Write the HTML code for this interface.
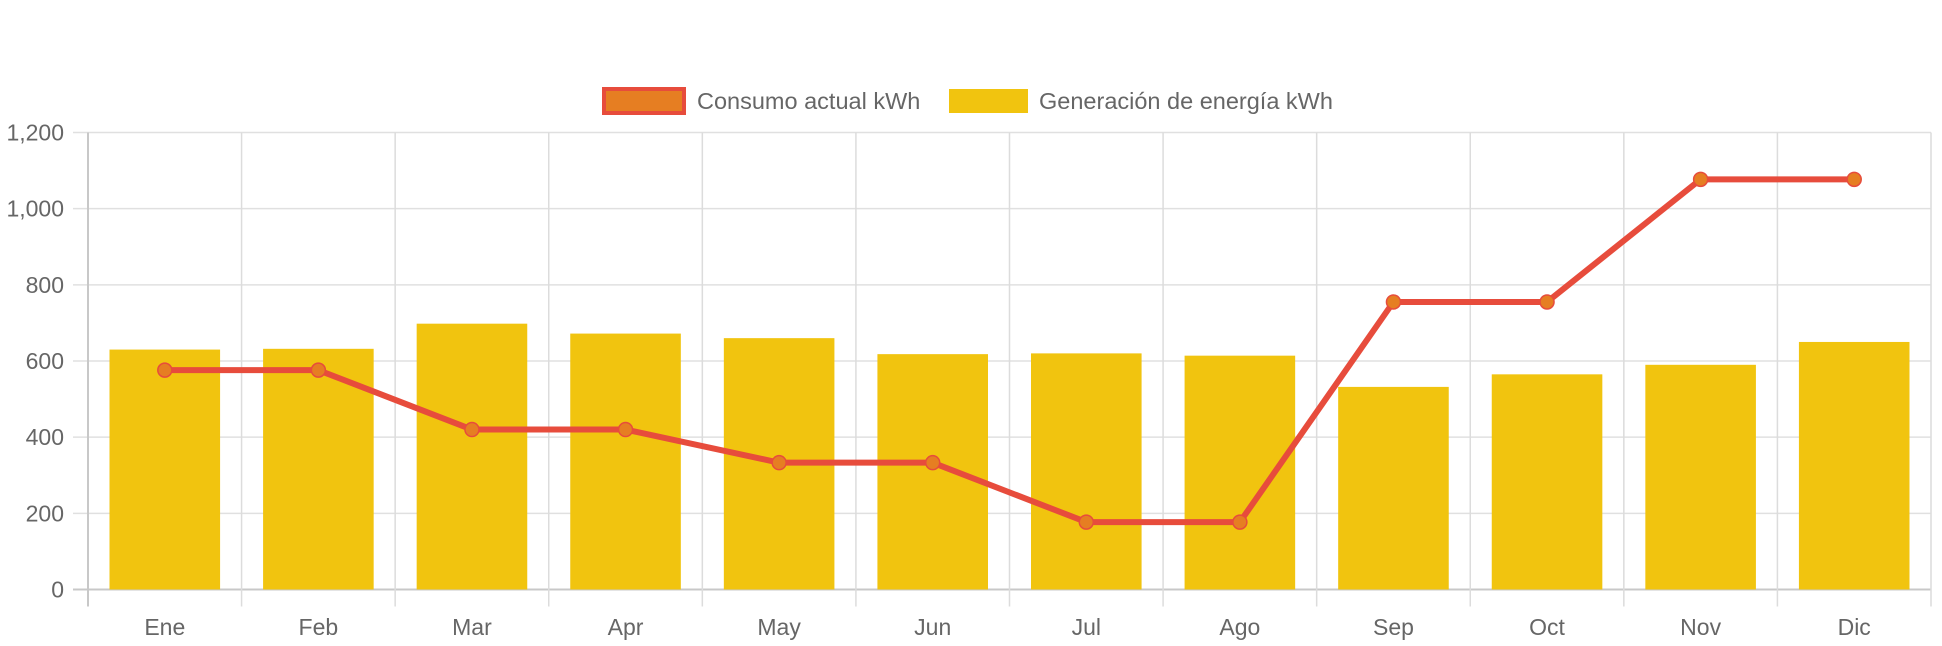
<!DOCTYPE html>
<html><head><meta charset="utf-8"><style>
html,body{margin:0;padding:0;background:#fff;}
svg{display:block;font-family:"Liberation Sans",Arial,sans-serif;}
</style></head><body>
<svg id="chart" width="1942" height="646" viewBox="0 0 1942 646" xmlns="http://www.w3.org/2000/svg">
<g id="legend">
  <g>
    <rect x="604" y="89" width="80" height="24" fill="#e67e22" stroke="#e74c3c" stroke-width="4"/>
    <text x="697" y="109" font-size="23.5" fill="#666">Consumo actual kWh</text>
  </g>
  <g>
    <rect x="949" y="89" width="79" height="24" fill="#f1c40f"/>
    <text x="1039" y="109" font-size="23.5" fill="#666">Generación de energía kWh</text>
  </g>
</g>
<g id="grid"></g>
<g id="bars"></g>
<g id="line"></g>
<g id="labels"></g>
</svg>
<script>
const categories = ["Ene","Feb","Mar","Apr","May","Jun","Jul","Ago","Sep","Oct","Nov","Dic"];
const generacion = [630,632,698,672,660,618,620,614,532,565,590,650];
const consumo = [576,576,420,420,333,333,177,177,755,755,1077,1077];
const yTicks = [0,200,400,600,800,1000,1200];
const yTickLabels = ["0","200","400","600","800","1,000","1,200"];

const NS="http://www.w3.org/2000/svg";
const L=88,R=1931,T=132.5,B=589.5,yMax=1200;
const cw=(R-L)/categories.length;
const x=i=>L+cw*(i+0.5);
const y=v=>B-(v/yMax)*(B-T);
function mk(tag,attrs,parent){const e=document.createElementNS(NS,tag);for(const k in attrs)e.setAttribute(k,attrs[k]);parent.appendChild(e);return e;}
const grid=document.getElementById('grid'),bars=document.getElementById('bars'),line=document.getElementById('line'),labels=document.getElementById('labels');

yTicks.forEach((t,i)=>{
  const g=mk('line',{x1:L-15,x2:R,y1:y(t),y2:y(t),stroke:i===0?'#c8c8c8':'#e0e0e0','stroke-width':i===0?2:1.5},grid);
  
  
  const tx=mk('text',{x:64,y:y(t)+8,'text-anchor':'end','font-size':23,fill:'#666'},labels);
  tx.textContent=yTickLabels[i];
  
  
});
for(let i=0;i<=categories.length;i++){
  const gx=L+cw*i;
  const g=mk('line',{x1:gx,x2:gx,y1:T,y2:B+17,stroke:i===0?'#c8c8c8':'#dcdcdc','stroke-width':i===0?2:1.5},grid);
  
  
}
categories.forEach((c,i)=>{
  const bw=cw*0.72;
  const b=mk('rect',{x:x(i)-bw/2,y:y(generacion[i]),width:bw,height:B-y(generacion[i]),fill:'#f1c40f'},bars);
  
  
  const tx=mk('text',{x:x(i),y:635,'text-anchor':'middle','font-size':23,fill:'#666'},labels);
  tx.textContent=c;
  
  
});
const pl=mk('polyline',{points:consumo.map((v,i)=>x(i)+','+y(v)).join(' '),fill:'none',stroke:'#e74c3c','stroke-width':6,'stroke-linejoin':'round'},line);


consumo.forEach((v,i)=>{
  const p=mk('circle',{cx:x(i),cy:y(v),r:7,fill:'#e67e22',stroke:'#e74c3c','stroke-width':1.5},line);
  
  
});
</script>
</body></html>
